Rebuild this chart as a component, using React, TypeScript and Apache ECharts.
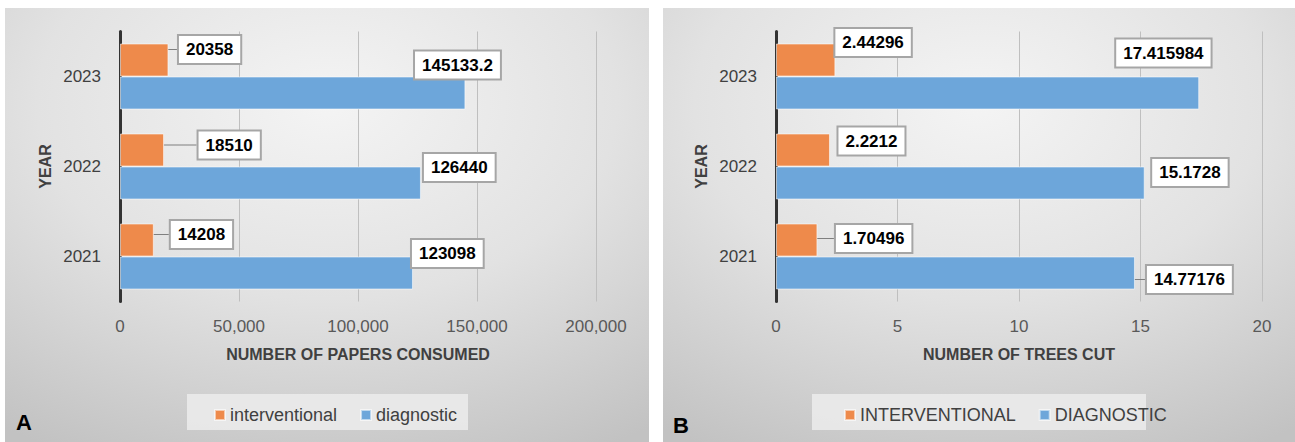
import React, { useEffect, useRef } from "react";
import * as echarts from "echarts";

const years = ["2021", "2022", "2023"];
const papersInterventional = [14208, 18510, 20358];
const papersDiagnostic = [123098, 126440, 145133.2];
const treesInterventional = [1.70496, 2.2212, 2.44296];
const treesDiagnostic = [14.77176, 15.1728, 17.415984];
const papersTicks = { min: 0, max: 200000, interval: 50000 };
const treesTicks = { min: 0, max: 20, interval: 5 };

// label offsets (styling only): [dx, dy] relative to bar end, per year index
const OFFSETS: Record<string, number[][]> = {
  aInt: [[17, -5.5], [34.5, -5], [10.5, -10.5]],
  aDiag: [[-1, -19.5], [3, -15.5], [-50.4, -28]],
  bInt: [[18.5, -1.5], [8.5, -9], [0, -17.5]],
  bDiag: [[12, 6.5], [7.5, -10.5], [-83, -40]],
};
// whether a leader line is drawn (styling only)
const LEADERS: Record<string, boolean[]> = {
  aInt: [true, true, true],
  aDiag: [false, false, false],
  bInt: [true, false, false],
  bDiag: [true, false, false],
};

const FONT = "Liberation Sans, Arial, sans-serif";
const ORANGE = "#EE8A4B";
const BLUE = "#6DA6DA";
const TXT = "#404040";

function fmtThousands(v: number) {
  return String(v).replace(/\B(?=(\d{3})+(?!\d))/g, ",");
}

export default function App() {
  const ref = useRef<HTMLDivElement>(null);
  useEffect(() => {
    document.body.style.margin = "0";
    const chart = echarts.init(ref.current!, null, { renderer: "svg" });

    const bg = (x: number, w: number) => ({
      type: "rect",
      z: -10,
      shape: { x, y: 8, width: w, height: 434 },
      style: {
        fill: new echarts.graphic.RadialGradient(0.5, 0.22, 0.9, [
          { offset: 0, color: "#f4f4f4" },
          { offset: 0.5, color: "#e2e2e2" },
          { offset: 1, color: "#c2c2c2" },
        ]),
      },
      silent: true,
    });
    const legendBg = (x: number, w: number) => ({
      type: "rect",
      z: -5,
      shape: { x, y: 394, width: w, height: 36 },
      style: { fill: "rgba(236,236,236,0.85)" },
      silent: true,
    });

    const label = () => ({
      show: true,
      position: "right",
      distance: 0,
      formatter: "{c}",
      color: "#000",
      fontFamily: FONT,
      fontWeight: "bold",
      fontSize: 17,
      lineHeight: 20,
      backgroundColor: "#fff",
      borderColor: "#a6a6a6",
      borderWidth: 2,
      padding: [4, 7, 3, 7],
    });
    const layoutFor = (key: string) => (p: any) => {
      const o = OFFSETS[key][p.dataIndex];
      return { dx: o[0], dy: o[1] };
    };

    const barSeries = (
      name: string,
      data: number[],
      color: string,
      idx: number,
      key: string
    ) => ({
      type: "bar",
      name,
      data: data.map((v, i) => ({
        value: v,
        labelLine: { show: LEADERS[key][i] },
      })),
      xAxisIndex: idx,
      yAxisIndex: idx,
      barWidth: 33,
      barGap: "0%",
      itemStyle: { color, borderColor: "rgba(255,255,255,0.55)", borderWidth: 1 },
      label: label(),
      labelLine: { show: true, lineStyle: { color: "#7f7f7f", width: 1 } },
      labelLayout: layoutFor(key),
    });

    const catAxis = (idx: number) => ({
      type: "category",
      gridIndex: idx,
      data: years,
      axisLine: { show: true, lineStyle: { color: "#333", width: 3 } },
      axisTick: { show: false },
      axisLabel: { fontFamily: FONT, fontSize: 17, color: TXT, margin: 19 },
      name: "YEAR",
      nameLocation: "middle",
      nameRotate: 90,
      nameGap: 67,
      nameTextStyle: { fontFamily: FONT, fontWeight: "bold", fontSize: 16, color: TXT },
    });
    const valAxis = (idx: number, ticks: any, name: string, fmt: (v: number) => string) => ({
      type: "value",
      gridIndex: idx,
      min: ticks.min,
      max: ticks.max,
      interval: ticks.interval,
      axisLine: { show: false },
      axisTick: { show: false },
      splitLine: { show: true, lineStyle: { color: "#bfbfbf", width: 1 } },
      axisLabel: { fontFamily: FONT, fontSize: 17, color: "#595959", margin: 16, formatter: fmt },
      name,
      nameLocation: "middle",
      nameGap: 45,
      nameTextStyle: { fontFamily: FONT, fontWeight: "bold", fontSize: 16, color: TXT },
    });

    const legendCommon = {
      orient: "horizontal",
      icon: "rect",
      itemWidth: 10,
      itemHeight: 10,
      itemGap: 23,
      top: 401,
      textStyle: { fontFamily: FONT, fontSize: 18, color: TXT },
    };

    chart.setOption({
      animation: false,
      backgroundColor: "#fff",
      graphic: [
        bg(5, 644),
        bg(663, 632),
        legendBg(187, 281),
        legendBg(812, 334),
        {
          type: "text",
          left: 16,
          top: 411,
          style: { text: "A", font: `bold 22px ${FONT}`, fill: "#000" },
        },
        {
          type: "text",
          left: 673,
          top: 414,
          style: { text: "B", font: `bold 22px ${FONT}`, fill: "#000" },
        },
      ],
      legend: [
        { ...legendCommon, left: 209, data: ["interventional", "diagnostic"] },
        { ...legendCommon, left: 839, data: ["INTERVENTIONAL", "DIAGNOSTIC"] },
      ],
      grid: [
        { left: 120, width: 476, top: 31.5, height: 270, containLabel: false },
        { left: 776, width: 486, top: 31.5, height: 270, containLabel: false },
      ],
      xAxis: [
        valAxis(0, papersTicks, "NUMBER OF PAPERS CONSUMED", (v: number) => fmtThousands(v)),
        valAxis(1, treesTicks, "NUMBER OF TREES CUT", (v: number) => String(v)),
      ],
      yAxis: [catAxis(0), catAxis(1)],
      series: [
        barSeries("interventional", papersInterventional, ORANGE, 0, "aInt"),
        barSeries("diagnostic", papersDiagnostic, BLUE, 0, "aDiag"),
        barSeries("INTERVENTIONAL", treesInterventional, ORANGE, 1, "bInt"),
        barSeries("DIAGNOSTIC", treesDiagnostic, BLUE, 1, "bDiag"),
      ],
    });
    return () => chart.dispose();
  }, []);
  return <div ref={ref} style={{ width: 1295, height: 442 }} />;
}
